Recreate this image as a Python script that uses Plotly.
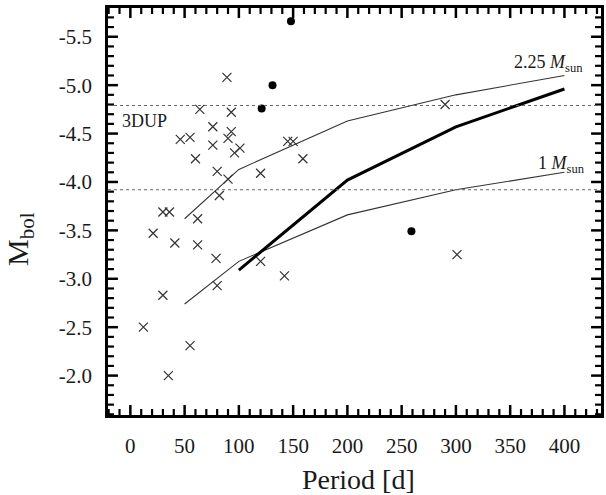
import plotly.graph_objects as go

# ---- data ----
cross_period = [89, 64, 93, 76, 93, 46, 55, 90, 76, 101, 96, 60, 145, 150, 159,
                80, 120, 90, 82, 30, 36, 62, 21, 41, 62, 79, 120, 142, 80, 30,
                12, 55, 35, 290, 301]
cross_mbol = [-5.08, -4.75, -4.72, -4.57, -4.52, -4.44, -4.46, -4.45, -4.38, -4.35,
              -4.30, -4.24, -4.42, -4.42, -4.24, -4.11, -4.09, -4.03, -3.86, -3.69,
              -3.69, -3.62, -3.47, -3.37, -3.35, -3.21, -3.18, -3.03, -2.93, -2.83,
              -2.50, -2.31, -2.00, -4.80, -3.25]

dot_period = [148, 131, 121, 259]
dot_mbol = [-5.66, -5.00, -4.76, -3.49]

m225_period = [50, 100, 200, 300, 400]
m225_mbol = [-3.62, -4.13, -4.63, -4.90, -5.10]

m1_period = [50, 100, 200, 300, 400]
m1_mbol = [-2.74, -3.18, -3.66, -3.92, -4.10]

thick_period = [100, 200, 300, 400]
thick_mbol = [-3.09, -4.02, -4.57, -4.96]

dup_levels = [-4.79, -3.92]

y_tickvals = [-5.5, -5.0, -4.5, -4.0, -3.5, -3.0, -2.5, -2.0]
y_ticktext = ["-5.5", "-5.0", "-4.5", "-4.0", "-3.5", "-3.0", "-2.5", "-2.0"]
x_tickvals = [0, 50, 100, 150, 200, 250, 300, 350, 400]

x_minor_ticks = [v for v in range(-20, 440, 10) if v % 50 != 0]
y_minor_ticks = [round(-5.7 + 0.1 * i, 1) for i in range(42)]
y_minor_ticks = [v for v in y_minor_ticks if v not in y_tickvals]

X_RANGE = [-20.6, 433.7]
Y_RANGE = [-1.593, -5.797]   # reversed (bottom, top)
PLOT_W, PLOT_H = 496, 407

FONT = "Liberation Serif, Times New Roman, DejaVu Serif, serif"
INK = "#1a1a1a"
TICK_COLOR = "black"

fig = go.Figure()

fig.add_trace(go.Scatter(x=m225_period, y=m225_mbol, mode="lines",
                         line=dict(color="#333333", width=1.1), showlegend=False))
fig.add_trace(go.Scatter(x=m1_period, y=m1_mbol, mode="lines",
                         line=dict(color="#333333", width=1.1), showlegend=False))
fig.add_trace(go.Scatter(x=thick_period, y=thick_mbol, mode="lines",
                         line=dict(color="#000000", width=3), showlegend=False))
fig.add_trace(go.Scatter(x=cross_period, y=cross_mbol, mode="markers",
                         marker=dict(symbol="x-thin-open", size=9, color="#333333",
                                     line=dict(color="#333333", width=1.2)),
                         showlegend=False))
fig.add_trace(go.Scatter(x=dot_period, y=dot_mbol, mode="markers",
                         marker=dict(symbol="circle", size=8, color="#000000"),
                         showlegend=False))

for lvl in dup_levels:
    fig.add_shape(type="line", xref="paper", x0=0, x1=1, yref="y", y0=lvl, y1=lvl,
                  line=dict(color="#666666", width=1, dash="dot"))

# ---- inward ticks on all four sides, built from the tick arrays ----
x_per_px = (X_RANGE[1] - X_RANGE[0]) / PLOT_W
y_per_px = (Y_RANGE[0] - Y_RANGE[1]) / PLOT_H

def tick_segments(xvals, yvals, length_px):
    xs, ys = [], []
    ly = length_px * y_per_px
    lx = length_px * x_per_px
    for v in xvals:
        xs += [v, v, None, v, v, None]
        ys += [Y_RANGE[0], Y_RANGE[0] - ly, None, Y_RANGE[1], Y_RANGE[1] + ly, None]
    for v in yvals:
        xs += [X_RANGE[0], X_RANGE[0] + lx, None, X_RANGE[1], X_RANGE[1] - lx, None]
        ys += [v, v, None, v, v, None]
    return xs, ys

mx, my = tick_segments(x_tickvals, y_tickvals, 10)
fig.add_trace(go.Scatter(x=mx, y=my, mode="lines", line=dict(color=TICK_COLOR, width=2.5),
                         connectgaps=False, hoverinfo="skip", showlegend=False))
nx, ny = tick_segments(x_minor_ticks, y_minor_ticks, 6)
fig.add_trace(go.Scatter(x=nx, y=ny, mode="lines", line=dict(color=TICK_COLOR, width=2.2),
                         connectgaps=False, hoverinfo="skip", showlegend=False))

fig.add_annotation(x=0.024, xref="paper", y=-4.63, yref="y", text="3DUP",
                   showarrow=False, xanchor="left", yanchor="middle",
                   font=dict(family=FONT, size=18, color=INK))
fig.add_annotation(x=419, y=-5.22, text="2.25 <i>M</i><sub>sun</sub>",
                   showarrow=False, xanchor="right", yanchor="middle",
                   font=dict(family=FONT, size=18, color=INK))
fig.add_annotation(x=421, y=-4.18, text="1 <i>M</i><sub>sun</sub>",
                   showarrow=False, xanchor="right", yanchor="middle",
                   font=dict(family=FONT, size=18, color=INK))

# axis titles
fig.add_annotation(x=0.508, xref="paper", y=-0.159, yref="paper", text="Period [d]",
                   showarrow=False, xanchor="center", yanchor="middle",
                   font=dict(family=FONT, size=28, color=INK))
fig.add_annotation(x=-0.179, xref="paper", y=0.432, yref="paper",
                   text="M<sub>bol</sub>", textangle=-90,
                   showarrow=False, xanchor="center", yanchor="middle",
                   font=dict(family=FONT, size=30, color=INK))

fig.update_xaxes(range=X_RANGE, tickmode="array", tickvals=x_tickvals,
                 ticks="", showline=True, linewidth=2.5, linecolor="black",
                 mirror=True, showgrid=False, zeroline=False,
                 tickfont=dict(family=FONT, size=21, color=INK),
                 ticklabelstandoff=10)
fig.update_yaxes(range=Y_RANGE, tickmode="array", tickvals=y_tickvals,
                 ticktext=y_ticktext,
                 ticks="", showline=True, linewidth=2.5, linecolor="black",
                 mirror=True, showgrid=False, zeroline=False,
                 tickfont=dict(family=FONT, size=21, color=INK),
                 ticklabelstandoff=9)

fig.update_layout(width=606, height=495,
                  margin=dict(l=108, r=2, t=8, b=80),
                  paper_bgcolor="white", plot_bgcolor="white",
                  font=dict(family=FONT, color=INK))

fig.write_html("out.html")
